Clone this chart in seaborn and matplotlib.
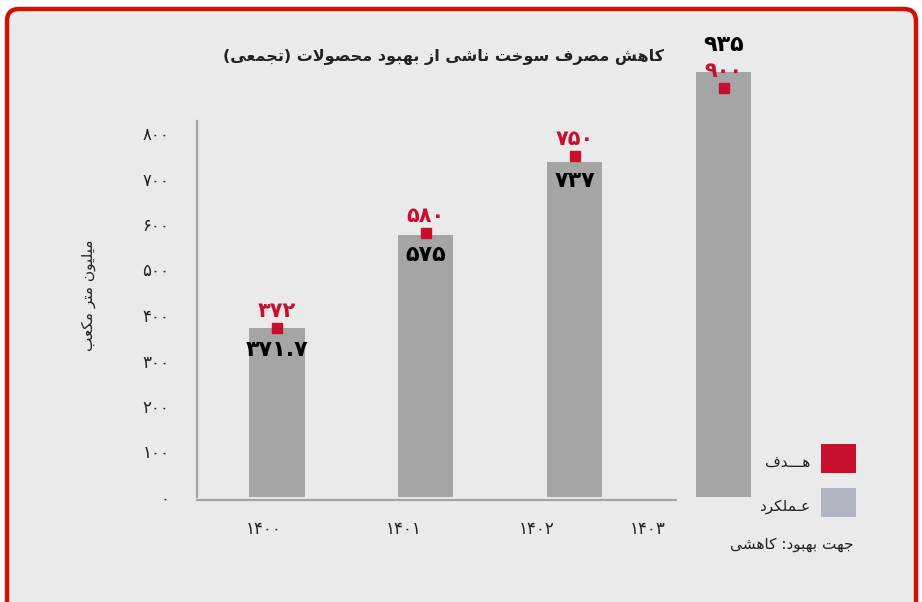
import numpy as np
import seaborn as sns
import matplotlib.pyplot as plt
from matplotlib.patches import FancyBboxPatch, Rectangle

# data
years = ["1400", "1401", "1402", "1403"]
actual = [371.7, 575, 737, 935]
target = [372, 580, 750, 900]
actual_labels = ["371.7", "575", "737", "935"]
target_labels = ["372", "580", "750", "900"]
y_ticks = [0, 100, 200, 300, 400, 500, 600, 700, 800]

title = "کاهش مصرف سوخت ناشی از بهبود محصولات (تجمعی)"
ylabel = "میلیون متر مکعب"
legend_target = "هـــدف"
legend_actual = "عـملکرد"
note = "جهت بهبود: کاهشی"

GRAY = "#a5a5a5"
RED = "#c8102e"
LEG_GRAY = "#b1b5c1"
BORDER = "#d40f00"
BG = "#eaeaea"

# --- simple Persian shaping (matplotlib has no RTL / joining support) ---
DUAL = {"ب": 0xFE8F, "ت": 0xFE95, "ج": 0xFE9D, "ح": 0xFEA1, "خ": 0xFEA5,
        "س": 0xFEB1, "ش": 0xFEB5, "ص": 0xFEB9, "ع": 0xFEC9, "ف": 0xFED1,
        "ل": 0xFEDD, "م": 0xFEE1, "ن": 0xFEE5, "ه": 0xFEE9,
        "ک": 0xFB8E, "ی": 0xFBFC}
RIGHT = {"ا": 0xFE8D, "د": 0xFEA9, "ر": 0xFEAD, "ز": 0xFEAF, "و": 0xFEED}
TATWEEL = "ـ"


def joins_left(c):
    return c in DUAL or c == TATWEEL


def joins_right(c):
    return c in DUAL or c in RIGHT or c == TATWEEL


def fa(s):
    s = s.replace("(", "\0").replace(")", "(").replace("\0", ")")
    out = []
    i = 0
    while i < len(s):
        c = s[i]
        prev = s[i - 1] if i > 0 else " "
        nxt = s[i + 1] if i + 1 < len(s) else " "
        p = joins_left(prev)
        if c == "ل" and nxt == "ا":
            out.append(chr(0xFEFC if p else 0xFEFB))
            i += 2
            continue
        if c in DUAL:
            n = joins_right(nxt)
            base = DUAL[c]
            if p and n:
                out.append(chr(base + 3))
            elif p:
                out.append(chr(base + 1))
            elif n:
                out.append(chr(base + 2))
            else:
                out.append(chr(base))
        elif c in RIGHT:
            out.append(chr(RIGHT[c] + (1 if p else 0)))
        else:
            out.append(c)
        i += 1
    return "".join(reversed(out))


def fa_digits(s):
    return s.translate(str.maketrans("0123456789", "۰۱۲۳۴۵۶۷۸۹"))


sns.set_theme(style="white")
plt.rcParams["font.family"] = ["DejaVu Sans"]

fig = plt.figure(figsize=(9.22, 6.02), dpi=100, facecolor="white")

# rounded red frame
frame = FancyBboxPatch((0.07, -0.3), 9.09, 6.23,
                       boxstyle="round,pad=0,rounding_size=0.12",
                       transform=fig.dpi_scale_trans, facecolor=BG,
                       edgecolor=BORDER, linewidth=3.2, zorder=-5)
fig.patches.append(frame)

ax = fig.add_axes([197 / 922, 105 / 602, 616 / 922, 455 / 602])
ax.set_facecolor("none")
ax.set_zorder(2)

sns.barplot(x=years, y=actual, color=GRAY, width=0.37, saturation=1,
            edgecolor="none", linewidth=0, ax=ax, zorder=2)
pos = np.arange(len(years))
ax.plot(pos, target, linestyle="none", marker="s", markersize=7,
        color=RED, zorder=3)

ax.set_xlim(-0.537, 3.6)
ax.set_ylim(0, 1000)

# value labels
actual_offsets = [-16, -14, -14, 19]
for x, v, lab, off in zip(pos, actual, actual_labels, actual_offsets):
    ax.annotate(fa_digits(lab), (x, v), xytext=(0, off), textcoords="offset points",
                ha="center", va="center", fontsize=16, fontweight="bold",
                color="black", zorder=4)
for x, v, lab in zip(pos, target, target_labels):
    ax.annotate(fa_digits(lab), (x, v), xytext=(0, 12), textcoords="offset points",
                ha="center", va="center", fontsize=15, fontweight="bold",
                color=RED, zorder=4)

# axes styling
for side in ["top", "right"]:
    ax.spines[side].set_visible(False)
for side in ["left", "bottom"]:
    ax.spines[side].set_color(GRAY)
    ax.spines[side].set_linewidth(1.6)
ax.spines["bottom"].set_position(("outward", 2.5))
ax.spines["left"].set_bounds(0, 826)
ax.spines["bottom"].set_bounds(-0.537, 2.68)

ax.set_yticks(y_ticks)
ax.set_yticklabels([fa_digits(str(t)) for t in y_ticks], fontsize=12, color="#222222")
ax.set_xticks([-0.09, 0.85, 1.745, 2.49])
ax.set_xticklabels([fa_digits(y) for y in years], fontsize=12, color="#222222")
ax.tick_params(axis="y", length=0, pad=20)
ax.tick_params(axis="x", length=0, pad=14)
ax.set_xlabel("")
ax.set_ylabel("")

fig.text(88 / 922, 1 - 295 / 602, fa(ylabel), rotation=90, ha="center",
         va="center", fontsize=11, color="#222222")
fig.text(443 / 922, 1 - 57 / 602, fa(title), ha="center", va="center",
         fontsize=11.5, fontweight="bold", color="#222222")

# legend
fig.patches.append(Rectangle((821 / 922, 1 - 473 / 602), 35 / 922, 29 / 602,
                             transform=fig.transFigure, facecolor=RED,
                             edgecolor="none"))
fig.patches.append(Rectangle((821 / 922, 1 - 517 / 602), 35 / 922, 29 / 602,
                             transform=fig.transFigure, facecolor=LEG_GRAY,
                             edgecolor="none"))
fig.text(810 / 922, 1 - 462 / 602, fa(legend_target), ha="right", va="center",
         fontsize=11, color="#222222")
fig.text(810 / 922, 1 - 506 / 602, fa(legend_actual), ha="right", va="center",
         fontsize=11, color="#222222")
fig.text(853 / 922, 1 - 545 / 602, fa(note), ha="right", va="center",
         fontsize=11, color="#222222")

plt.savefig("out.png", dpi=100)
